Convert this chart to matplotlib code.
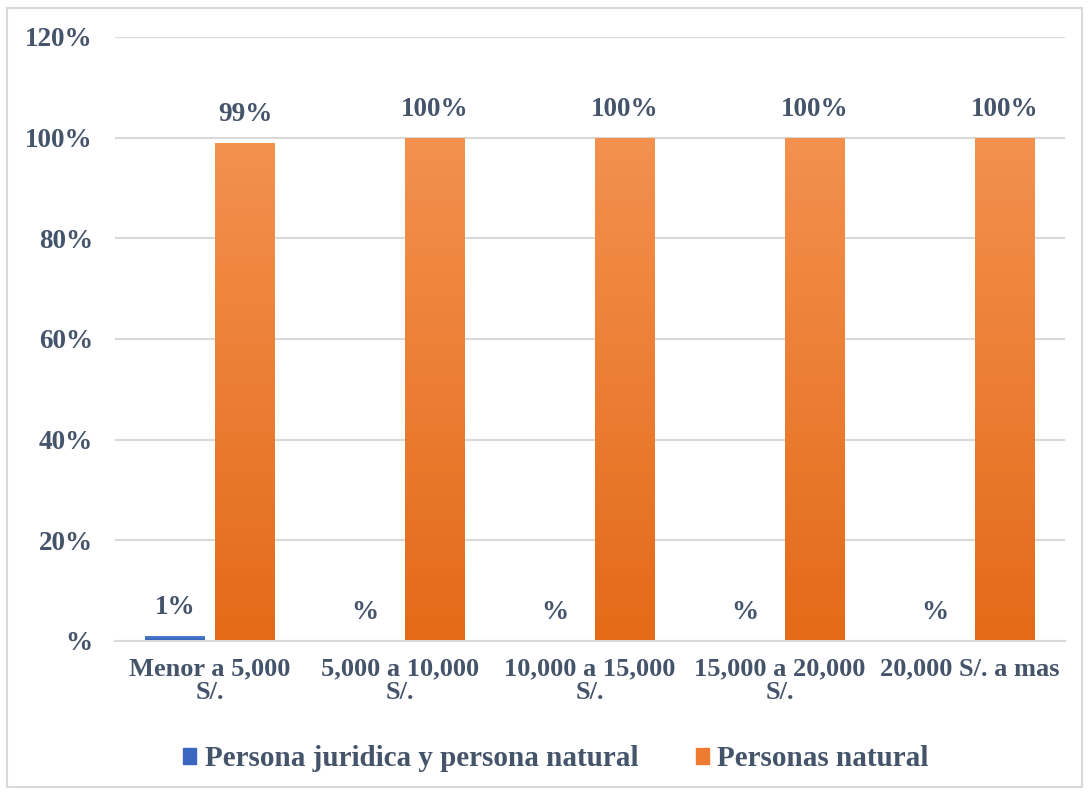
import numpy as np
import matplotlib.pyplot as plt
from matplotlib.colors import LinearSegmentedColormap
from matplotlib.patches import Rectangle

categories = ["Menor a 5,000\nS/.", "5,000 a 10,000\nS/.", "10,000 a 15,000\nS/.",
              "15,000 a 20,000\nS/.", "20,000 S/. a mas"]
juridica = [1, 0, 0, 0, 0]
natural = [99, 100, 100, 100, 100]
series_names = ["Persona juridica y persona natural", "Personas natural"]
yticks = [0, 20, 40, 60, 80, 100, 120]
ytick_labels = ["%", "20%", "40%", "60%", "80%", "100%", "120%"]

text_color = "#44546A"
grid_color = "#D9D9D9"
font = "Liberation Serif"

fig = plt.figure(figsize=(10.89, 7.94), dpi=100)
ax = fig.add_axes([115 / 1089, 1 - 641 / 794, 950 / 1089, 604 / 794])

x = np.arange(len(categories))
w = 0.315
off = 0.37 / 2
bars_j = ax.bar(x - off, juridica, w, color="#4472C4", zorder=2)
bars_n = ax.bar(x + off, natural, w, color="#ED7D31", zorder=2)

# vertical gradient fill on each bar
orange = LinearSegmentedColormap.from_list("o", ["#E46A18", "#F3914F"])
blue = LinearSegmentedColormap.from_list("b", ["#2E5BB8", "#5A85D0"])
grad = np.linspace(0, 1, 256).reshape(-1, 1)
for bars, cmap in [(bars_j, blue), (bars_n, orange)]:
    for b in bars:
        if b.get_height() <= 0:
            continue
        b.set_facecolor("none")
        x0, y0 = b.get_x(), b.get_y()
        im = ax.imshow(grad, cmap=cmap, origin="lower", aspect="auto",
                       extent=[x0, x0 + b.get_width(), y0, y0 + b.get_height()], zorder=2)
        clip = Rectangle((x0, y0), b.get_width(), b.get_height(), transform=ax.transData)
        im.set_clip_path(clip)

for bars, vals in [(bars_j, juridica), (bars_n, natural)]:
    for b, v in zip(bars, vals):
        lab = f"{v}%" if v else "%"
        ax.text(b.get_x() + b.get_width() / 2, v + 3.2, lab, ha="center", va="bottom",
                fontsize=19.5, fontweight="bold", color=text_color, family=font)

ax.set_xlim(-0.5, len(categories) - 0.5)
ax.set_ylim(0, 120)
ax.set_yticks(yticks)
ax.set_yticklabels(ytick_labels)
ax.set_xticks(x)
ax.set_xticklabels(categories, linespacing=1.0)
for lab in ax.get_xticklabels() + ax.get_yticklabels():
    lab.set_fontsize(19)
    lab.set_fontweight("bold")
    lab.set_color(text_color)
    lab.set_family(font)
for lab in ax.get_yticklabels():
    lab.set_fontsize(19.5)
ax.tick_params(axis="both", length=0)
ax.tick_params(axis="y", pad=16)
ax.tick_params(axis="x", pad=12)
ax.yaxis.grid(True, color=grid_color, linewidth=1.5, zorder=0)
ax.set_axisbelow(True)
for s in ["top", "right", "left"]:
    ax.spines[s].set_visible(False)
ax.spines["bottom"].set_color(grid_color)
ax.spines["bottom"].set_linewidth(1.5)

# legend
handles = [Rectangle((0, 0), 1, 1, color="#3A67C0"), Rectangle((0, 0), 1, 1, color="#EE7B30")]
leg = fig.legend(handles, series_names, loc="center", bbox_to_anchor=(556 / 1089, 1 - 759 / 794),
                 ncol=2, frameon=False, handlelength=0.45, handleheight=0.45,
                 handletextpad=0.3, columnspacing=1.95,
                 prop={"family": font, "weight": "bold", "size": 21})
for t in leg.get_texts():
    t.set_color(text_color)

# outer border
fig.patches.append(Rectangle((7 / 1089, 1 - 787 / 794), 1075 / 1089, 779 / 794,
                             transform=fig.transFigure, fill=False,
                             edgecolor=grid_color, linewidth=1.5))

fig.savefig("out.png", dpi=100)
